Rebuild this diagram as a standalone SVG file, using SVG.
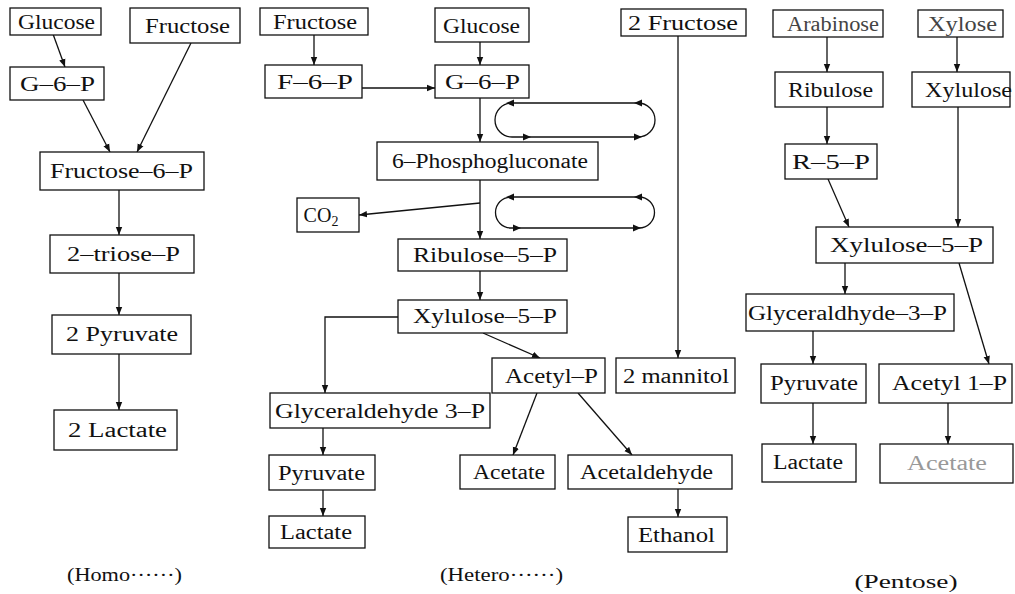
<svg xmlns="http://www.w3.org/2000/svg" width="1015" height="594" viewBox="0 0 1015 594">
<style>
.box{fill:#fff;stroke:#111;stroke-width:1.3}
.t{font-family:"Liberation Serif","Times New Roman",serif;font-size:20px;fill:#111;text-anchor:middle}
.lab{font-family:"Liberation Serif","Times New Roman",serif;font-size:19px;fill:#111;text-anchor:middle}
.c{stroke:#111;stroke-width:1.3;fill:none}
.a{marker-end:url(#ah)}
.hd{fill:#111;stroke:none}
</style>
<defs>
<marker id="ah" viewBox="0 0 10 10" refX="10" refY="5" markerWidth="8" markerHeight="8" markerUnits="userSpaceOnUse" orient="auto">
<path d="M0,1 L10,5 L0,9 z" fill="#111"/>
</marker>
</defs>
<rect width="1015" height="594" fill="#fff"/>

<g id="connectors">
<!-- Homo -->
<line class="c a" x1="53" y1="34" x2="65" y2="67"/>
<line class="c a" x1="83" y1="100" x2="110" y2="152"/>
<line class="c a" x1="191" y1="43" x2="137" y2="152"/>
<line class="c a" x1="119" y1="190" x2="119" y2="235"/>
<line class="c a" x1="119" y1="273" x2="119" y2="315"/>
<line class="c a" x1="119" y1="354" x2="119" y2="410"/>
<!-- Hetero -->
<line class="c a" x1="314" y1="35" x2="314" y2="65"/>
<line class="c a" x1="480" y1="42" x2="480" y2="65"/>
<line class="c a" x1="362" y1="88" x2="435" y2="88"/>
<line class="c a" x1="480" y1="98" x2="480" y2="142"/>
<line class="c a" x1="480" y1="180" x2="480" y2="239"/>
<line class="c a" x1="480" y1="203" x2="359" y2="215"/>
<line class="c a" x1="480" y1="271" x2="480" y2="300"/>
<polyline class="c a" points="398,317 325,317 325,393"/>
<line class="c a" x1="483" y1="333" x2="540" y2="358"/>
<line class="c a" x1="323" y1="428" x2="323" y2="455"/>
<line class="c a" x1="323" y1="490" x2="323" y2="516"/>
<line class="c a" x1="537" y1="393" x2="513" y2="455"/>
<line class="c a" x1="578" y1="393" x2="632" y2="455"/>
<line class="c a" x1="678" y1="489" x2="678" y2="517"/>
<line class="c a" x1="678" y1="36" x2="678" y2="358"/>
<!-- cycles -->
<path class="c" d="M512,103 H638 A17,17 0 0 1 638,137 H512 A17,17 0 0 1 512,103 Z"/>
<polygon class="hd" points="506,103 514,99.5 514,106.5"/>
<polygon class="hd" points="634,103 642,99.5 642,106.5"/>
<polygon class="hd" points="531,137 523,133.5 523,140.5"/>
<polygon class="hd" points="642,137 634,133.5 634,140.5"/>
<path class="c" d="M511,197 H639 A15.5,15.5 0 0 1 639,228 H511 A15.5,15.5 0 0 1 511,197 Z"/>
<polygon class="hd" points="506,197 514,193.5 514,200.5"/>
<polygon class="hd" points="634,197 642,193.5 642,200.5"/>
<polygon class="hd" points="521,228 513,224.5 513,231.5"/>
<polygon class="hd" points="641,228 633,224.5 633,231.5"/>
<!-- Pentose -->
<line class="c a" x1="827" y1="37" x2="827" y2="72"/>
<line class="c a" x1="827" y1="107" x2="827" y2="144"/>
<line class="c a" x1="957" y1="37" x2="957" y2="72"/>
<line class="c a" x1="958" y1="107" x2="958" y2="227"/>
<line class="c a" x1="828" y1="179" x2="849" y2="227"/>
<line class="c a" x1="845" y1="263" x2="845" y2="294"/>
<line class="c a" x1="959" y1="263" x2="989" y2="364"/>
<line class="c a" x1="813" y1="331" x2="813" y2="364"/>
<line class="c a" x1="813" y1="403" x2="813" y2="444"/>
<line class="c a" x1="948" y1="403" x2="948" y2="444"/>
</g>

<!-- Homo column -->
<g id="homo-glucose"><rect class="box" x="10" y="8" width="91" height="27"/><text class="t" x="56.5" y="29" textLength="77" lengthAdjust="spacingAndGlyphs">Glucose</text></g>
<g id="homo-fructose"><rect class="box" x="130" y="8" width="110" height="35"/><text class="t" x="187.5" y="33" textLength="85" lengthAdjust="spacingAndGlyphs">Fructose</text></g>
<g id="homo-g6p"><rect class="box" x="10" y="67" width="94" height="33"/><text class="t" x="57.5" y="91" textLength="75" lengthAdjust="spacingAndGlyphs">G–6–P</text></g>
<g id="homo-f6p"><rect class="box" x="40" y="152" width="164" height="38"/><text class="t" x="121.5" y="178" textLength="143" lengthAdjust="spacingAndGlyphs">Fructose–6–P</text></g>
<g id="homo-triose"><rect class="box" x="50" y="235" width="144" height="38"/><text class="t" x="123.5" y="261" textLength="113" lengthAdjust="spacingAndGlyphs">2–triose–P</text></g>
<g id="homo-pyruvate"><rect class="box" x="52" y="315" width="139" height="39"/><text class="t" x="122" y="341" textLength="112" lengthAdjust="spacingAndGlyphs">2  Pyruvate</text></g>
<g id="homo-lactate"><rect class="box" x="54" y="410" width="123" height="40"/><text class="t" x="117.5" y="437" textLength="99" lengthAdjust="spacingAndGlyphs">2  Lactate</text></g>

<!-- Hetero column -->
<g id="het-fructose"><rect class="box" x="260" y="8" width="108" height="27"/><text class="t" x="315" y="29" textLength="84" lengthAdjust="spacingAndGlyphs">Fructose</text></g>
<g id="het-glucose"><rect class="box" x="435" y="8" width="94" height="34"/><text class="t" x="481.5" y="33" textLength="77" lengthAdjust="spacingAndGlyphs">Glucose</text></g>
<g id="het-f6p"><rect class="box" x="265" y="65" width="97" height="33"/><text class="t" x="315" y="89" textLength="76" lengthAdjust="spacingAndGlyphs">F–6–P</text></g>
<g id="het-g6p"><rect class="box" x="435" y="65" width="94" height="33"/><text class="t" x="482.5" y="89" textLength="75" lengthAdjust="spacingAndGlyphs">G–6–P</text></g>
<g id="het-6pg"><rect class="box" x="377" y="142" width="221" height="38"/><text class="t" x="490" y="168" textLength="196" lengthAdjust="spacingAndGlyphs">6–Phosphogluconate</text></g>
<g id="het-co2"><rect class="box" x="297" y="198" width="62" height="34"/><text class="t" x="321" y="222">CO<tspan font-size="14" dy="4">2</tspan></text></g>
<g id="het-ribulose5p"><rect class="box" x="398" y="239" width="169" height="32"/><text class="t" x="485" y="262" textLength="144" lengthAdjust="spacingAndGlyphs">Ribulose–5–P</text></g>
<g id="het-xylulose5p"><rect class="box" x="398" y="300" width="169" height="33"/><text class="t" x="485" y="323" textLength="144" lengthAdjust="spacingAndGlyphs">Xylulose–5–P</text></g>
<g id="het-glyceraldehyde"><rect class="box" x="270" y="393" width="220" height="35"/><text class="t" x="380" y="418" textLength="210" lengthAdjust="spacingAndGlyphs">Glyceraldehyde  3–P</text></g>
<g id="het-acetylp"><rect class="box" x="492" y="358" width="113" height="35"/><text class="t" x="551.5" y="383" textLength="93" lengthAdjust="spacingAndGlyphs">Acetyl–P</text></g>
<g id="het-pyruvate"><rect class="box" x="269" y="455" width="106" height="35"/><text class="t" x="321.5" y="480" textLength="87" lengthAdjust="spacingAndGlyphs">Pyruvate</text></g>
<g id="het-lactate"><rect class="box" x="269" y="516" width="96" height="32"/><text class="t" x="316" y="539" textLength="72" lengthAdjust="spacingAndGlyphs">Lactate</text></g>
<g id="het-acetate"><rect class="box" x="460" y="455" width="95" height="34"/><text class="t" x="509" y="479" textLength="72" lengthAdjust="spacingAndGlyphs">Acetate</text></g>
<g id="het-acetaldehyde"><rect class="box" x="568" y="455" width="164" height="34"/><text class="t" x="646.5" y="479" textLength="133" lengthAdjust="spacingAndGlyphs">Acetaldehyde</text></g>
<g id="het-ethanol"><rect class="box" x="628" y="517" width="99" height="35"/><text class="t" x="676.5" y="542" textLength="77" lengthAdjust="spacingAndGlyphs">Ethanol</text></g>
<g id="het-2fructose"><rect class="box" x="621" y="9" width="125" height="27"/><text class="t" x="683" y="30" textLength="110" lengthAdjust="spacingAndGlyphs">2  Fructose</text></g>
<g id="het-2mannitol"><rect class="box" x="616" y="358" width="119" height="35"/><text class="t" x="676" y="383" textLength="106" lengthAdjust="spacingAndGlyphs">2  mannitol</text></g>

<!-- Pentose column -->
<g id="pen-arabinose"><rect class="box" x="773" y="10" width="110" height="27"/><text class="t" x="833" y="31" textLength="92" lengthAdjust="spacingAndGlyphs" style="fill:#444">Arabinose</text></g>
<g id="pen-xylose"><rect class="box" x="918" y="10" width="85" height="27"/><text class="t" x="962.5" y="31" textLength="69" lengthAdjust="spacingAndGlyphs" style="fill:#444">Xylose</text></g>
<g id="pen-ribulose"><rect class="box" x="775" y="72" width="108" height="35"/><text class="t" x="830.5" y="97" textLength="85" lengthAdjust="spacingAndGlyphs">Ribulose</text></g>
<g id="pen-xylulose"><rect class="box" x="912" y="72" width="98" height="35"/><text class="t" x="968.5" y="97" textLength="87" lengthAdjust="spacingAndGlyphs">Xylulose</text></g>
<g id="pen-r5p"><rect class="box" x="785" y="144" width="92" height="35"/><text class="t" x="831" y="169" textLength="78" lengthAdjust="spacingAndGlyphs">R–5–P</text></g>
<g id="pen-xylulose5p"><rect class="box" x="816" y="227" width="177" height="36"/><text class="t" x="906.5" y="252" textLength="153" lengthAdjust="spacingAndGlyphs">Xylulose–5–P</text></g>
<g id="pen-glyceraldhyde"><rect class="box" x="746" y="294" width="208" height="37"/><text class="t" x="847.5" y="320" textLength="199" lengthAdjust="spacingAndGlyphs">Glyceraldhyde–3–P</text></g>
<g id="pen-pyruvate"><rect class="box" x="761" y="364" width="105" height="39"/><text class="t" x="814" y="390" textLength="88" lengthAdjust="spacingAndGlyphs">Pyruvate</text></g>
<g id="pen-acetyl1p"><rect class="box" x="879" y="364" width="133" height="39"/><text class="t" x="949.5" y="390" textLength="115" lengthAdjust="spacingAndGlyphs">Acetyl  1–P</text></g>
<g id="pen-lactate"><rect class="box" x="762" y="444" width="94" height="38"/><text class="t" x="808" y="469" textLength="70" lengthAdjust="spacingAndGlyphs">Lactate</text></g>
<g id="pen-acetate"><rect class="box" x="880" y="444" width="133" height="39"/><text class="t" x="947" y="470" textLength="80" lengthAdjust="spacingAndGlyphs" style="fill:#999">Acetate</text></g>

<g id="labels">
<text class="lab" x="124.5" y="581" textLength="115" lengthAdjust="spacingAndGlyphs">(Homo<tspan dy="-5">……</tspan><tspan dy="5">)</tspan></text>
<text class="lab" x="501.5" y="581" textLength="123" lengthAdjust="spacingAndGlyphs">(Hetero<tspan dy="-5">……</tspan><tspan dy="5">)</tspan></text>
<text class="lab" x="906" y="588" textLength="103" lengthAdjust="spacingAndGlyphs">(Pentose)</text>
</g>
</svg>
